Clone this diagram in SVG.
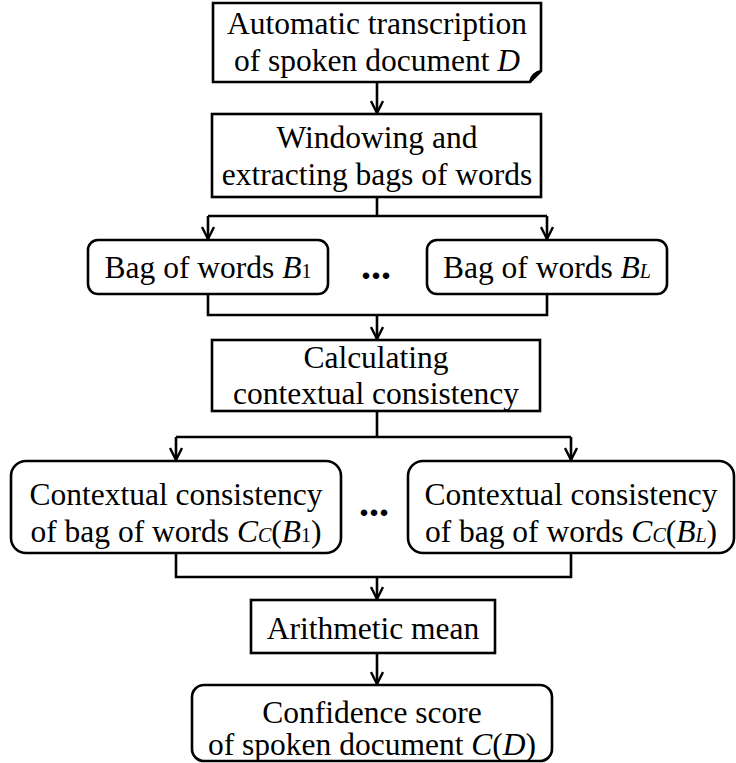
<svg xmlns="http://www.w3.org/2000/svg" width="736" height="763" viewBox="0 0 736 763">
<defs>
<style>
.box{fill:#fff;stroke:#000;stroke-width:2.6}
.ln{fill:none;stroke:#000;stroke-width:2.6}
text{font-family:'Liberation Serif','Times New Roman','DejaVu Serif',serif;fill:#000;text-anchor:middle}
.t{font-size:31.5px}
.i{font-style:italic}
.s{font-size:20px}
.dots{font-size:40px;font-weight:bold}
</style>
<marker id="ah" viewBox="0 0 14 14" refX="13" refY="7" markerWidth="14" markerHeight="14" markerUnits="userSpaceOnUse" orient="auto">
<path d="M1,1 L13,7 L1,13" fill="none" stroke="#000" stroke-width="2.4"/>
</marker>
</defs>
<g id="connectors">
<path class="ln" d="M377,82 V113" marker-end="url(#ah)"/>
<path class="ln" d="M377,197 V216 M208,216 H547"/>
<path class="ln" d="M208,216 V239" marker-end="url(#ah)"/>
<path class="ln" d="M547,216 V239" marker-end="url(#ah)"/>
<path class="ln" d="M208,294 V315 H547 V294"/>
<path class="ln" d="M377,315 V339" marker-end="url(#ah)"/>
<path class="ln" d="M377,411 V437 M176,437 H571"/>
<path class="ln" d="M176,437 V460" marker-end="url(#ah)"/>
<path class="ln" d="M571,437 V460" marker-end="url(#ah)"/>
<path class="ln" d="M176,553 V577 H571 V553"/>
<path class="ln" d="M377,577 V599" marker-end="url(#ah)"/>
<path class="ln" d="M377,653 V684" marker-end="url(#ah)"/>
</g>
<g id="n1">
<path class="box" d="M213,3 H541 V71 L530,82 H213 Z"/>
<path class="ln" d="M541,71 C536,72 531,76 530,82" stroke-width="2"/>
<text class="t" x="377" y="34" font-family="Liberation Serif, serif">Automatic transcription</text>
<text class="t" x="377" y="71">of spoken document <tspan class="i">D</tspan></text>
</g>
<g id="n2">
<rect class="box" x="212" y="114" width="329" height="83"/>
<text class="t" x="377" y="148">Windowing and</text>
<text class="t" x="377" y="185">extracting bags of words</text>
</g>
<g id="n3">
<rect class="box" x="88" y="240" width="240" height="54" rx="10"/>
<text class="t" x="208" y="278">Bag of words <tspan class="i">B</tspan><tspan class="s">1</tspan></text>
</g>
<g id="d1"><text class="dots" x="376" y="279">...</text></g>
<g id="n4">
<rect class="box" x="427" y="240" width="240" height="54" rx="10"/>
<text class="t" x="547" y="278">Bag of words <tspan class="i">B</tspan><tspan class="i s">L</tspan></text>
</g>
<g id="n5">
<rect class="box" x="212" y="340" width="328" height="71"/>
<text class="t" x="376" y="368">Calculating</text>
<text class="t" x="376" y="404">contextual consistency</text>
</g>
<g id="n6">
<rect class="box" x="11" y="461" width="330" height="92" rx="15"/>
<text class="t" x="176" y="505">Contextual consistency</text>
<text class="t" x="176" y="542">of bag of words <tspan class="i">C</tspan><tspan class="i s">C</tspan>(<tspan class="i">B</tspan><tspan class="s">1</tspan>)</text>
</g>
<g id="d2"><text class="dots" x="374" y="516">...</text></g>
<g id="n7">
<rect class="box" x="408" y="461" width="326" height="92" rx="15"/>
<text class="t" x="571" y="505">Contextual consistency</text>
<text class="t" x="571" y="542">of bag of words <tspan class="i">C</tspan><tspan class="i s">C</tspan>(<tspan class="i">B</tspan><tspan class="i s">L</tspan>)</text>
</g>
<g id="n8">
<rect class="box" x="251" y="600" width="244" height="53"/>
<text class="t" x="373" y="639">Arithmetic mean</text>
</g>
<g id="n9">
<rect class="box" x="192" y="685" width="360" height="76" rx="12"/>
<text class="t" x="372" y="723">Confidence score</text>
<text class="t" x="372" y="755">of spoken document <tspan class="i">C</tspan>(<tspan class="i">D</tspan>)</text>
</g>
</svg>
